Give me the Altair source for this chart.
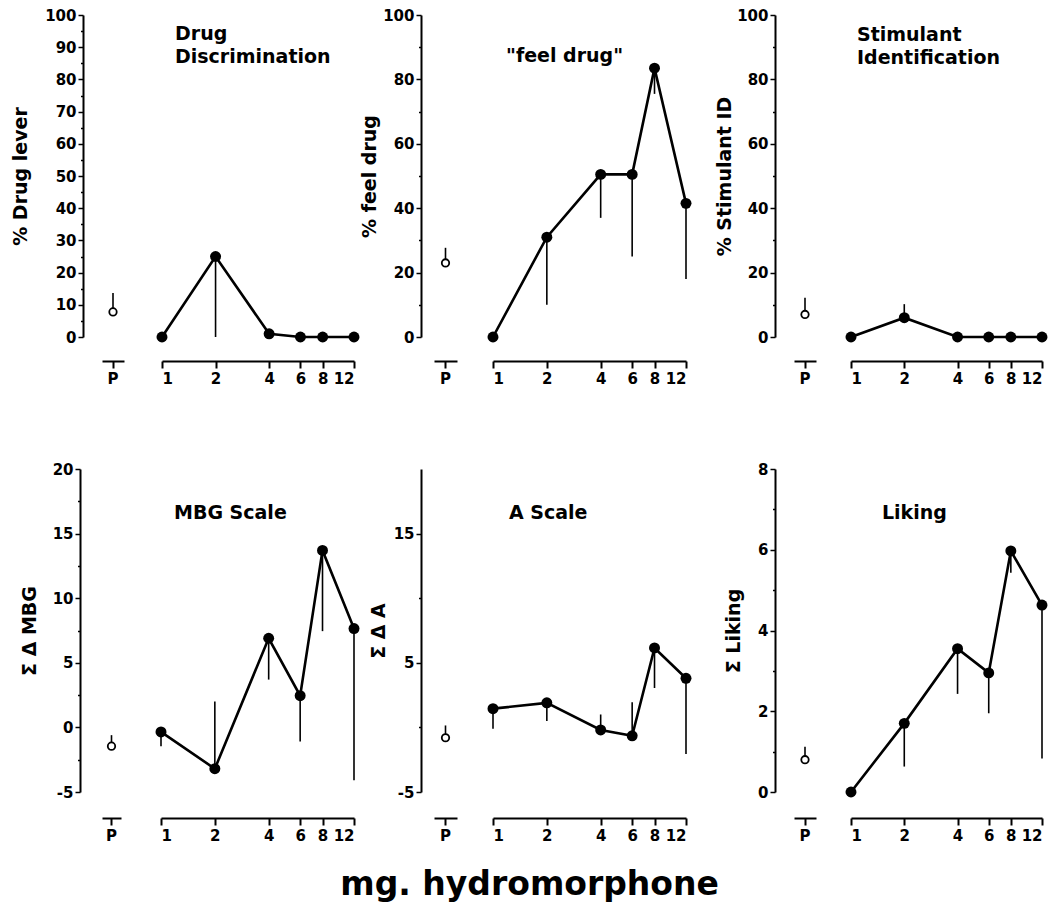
import altair as alt
import pandas as pd

# ---------------- data ----------------
doses = [1, 2, 4, 6, 8, 12]
dose_labels = ["1", "2", "4", "6", "8", "12"]
placebo_cat = ["P"]

# Drug Discrimination (% drug lever)
dd_mean = [0, 25, 1, 0, 0, 0]
dd_err = [0, 0, 1, 0, 0, 0]
dd_p_mean = [7.8]
dd_p_err = [13.7]

# "feel drug"
fd_mean = [0, 31, 50.5, 50.5, 83.5, 41.5]
fd_err = [0, 10, 37, 25, 75.5, 18]
fd_p_mean = [23]
fd_p_err = [27.7]

# Stimulant Identification
si_mean = [0, 6, 0, 0, 0, 0]
si_err = [0, 10.2, 0, 0, 0, 0]
si_p_mean = [7]
si_p_err = [12.2]

# MBG Scale
mbg_mean = [-0.35, -3.2, 6.9, 2.45, 13.7, 7.65]
mbg_err = [-1.45, 2.0, 3.7, -1.1, 7.45, -4.1]
mbg_p_mean = [-1.45]
mbg_p_err = [-0.6]

# A Scale
a_mean = [1.45, 1.9, -0.2, -0.65, 6.15, 3.8]
a_err = [-0.1, 0.5, 1.0, 1.95, 3.05, -2.05]
a_p_mean = [-0.8]
a_p_err = [0.15]

# Liking
lk_mean = [0, 1.7, 3.55, 2.95, 5.97, 4.63]
lk_err = [0, 0.63, 2.43, 1.95, 5.43, 0.83]
lk_p_mean = [0.8]
lk_p_err = [1.12]

FONT = "DejaVu Sans"


def frange(a, b, step):
    out = []
    v = a
    while v <= b + 1e-9:
        out.append(round(v, 4))
        v += step
    return out


def make_panel(title, ytitle, mean, err, p_mean, p_err, domain, yvalues,
               label_test, yoffset, title_pad, title_dx, title_dy,
               width, height, xoffset, p_range, d_range):
    ys = alt.Scale(domain=domain, nice=False, zero=False)
    yaxis = alt.Axis(
        values=yvalues,
        labelExpr=f"({label_test}) ? '' + datum.value : ''",
        tickSize={"condition": {"test": label_test, "value": 5}, "value": 2.5},
        offset=yoffset, title=ytitle, titlePadding=title_pad,
        grid=False, domainWidth=2, tickWidth=1.5,
        labelFontSize=15, labelFontWeight="bold", labelPadding=2,
        titleFontSize=19, titleFontWeight="bold", labelFont=FONT, titleFont=FONT,
        domainColor="black", tickColor="black", labelColor="black", titleColor="black",
    )
    xaxis_common = dict(
        title=None, grid=False, domainWidth=2, tickWidth=2, tickSize=7, orient="bottom",
        labelFontSize=15, labelFontWeight="bold", labelPadding=3, labelFont=FONT,
        domainColor="black", tickColor="black", labelColor="black", offset=xoffset,
    )

    # placebo part
    pdf = pd.DataFrame({"lab": placebo_cat, "mean": p_mean, "err": p_err})
    px = alt.X("lab:N", scale=alt.Scale(domain=placebo_cat, range=p_range),
               axis=alt.Axis(labelAngle=0, **xaxis_common))
    py = alt.Y("mean:Q", scale=ys, axis=yaxis)
    p_rule = alt.Chart(pdf).mark_rule(color="black", strokeWidth=1.6).encode(
        x=px, y=py, y2="err:Q")
    p_pt = alt.Chart(pdf).mark_point(shape="circle", filled=True, fill="white",
                                     stroke="black", strokeWidth=1.8, size=55,
                                     opacity=1).encode(x=px, y=py)
    placebo = alt.layer(p_rule, p_pt)

    # dose part
    ddf = pd.DataFrame({"dose": doses, "lab": dose_labels, "mean": mean, "err": err})
    dx_ = alt.X("dose:Q", scale=alt.Scale(type="log", domain=[1, 12], nice=False, range=d_range),
                axis=alt.Axis(values=doses, format="d", **xaxis_common))
    dy_ = alt.Y("mean:Q", scale=ys, axis=yaxis)
    d_rule = alt.Chart(ddf).mark_rule(color="black", strokeWidth=1.6).encode(
        x=dx_, y=dy_, y2="err:Q")
    d_line = alt.Chart(ddf).mark_line(color="black", strokeWidth=2.6).encode(x=dx_, y=dy_)
    d_pt = alt.Chart(ddf).mark_circle(color="black", size=120, opacity=1).encode(x=dx_, y=dy_)
    dose = alt.layer(d_rule, d_line, d_pt)

    return alt.layer(placebo, dose).resolve_scale(x="independent").resolve_axis(
        x="independent").properties(
        width=width, height=height,
        title=alt.TitleParams(text=title, orient="top", anchor="start", frame="group",
                              baseline="top", offset=0, dx=title_dx, dy=title_dy,
                              fontSize=19, fontWeight="bold", font=FONT,
                              color="black", lineHeight=23))


H1, H2 = 322, 323
W1, W2, W3 = 338, 354, 270

p1 = make_panel(["Drug", "Discrimination"], "% Drug lever", dd_mean, dd_err, dd_p_mean, dd_p_err,
                [0, 100], frange(0, 100, 5), "datum.value % 10 === 0",
                0, 14, 92, 59, W1, H1, 24, [19, 41], [79, 271])
p2 = make_panel(['"feel drug"'], "% feel drug", fd_mean, fd_err, fd_p_mean, fd_p_err,
                [0, 100], frange(0, 100, 10), "datum.value % 20 === 0",
                0, 3, 85, 58, W2, H1, 24, [13, 36], [72, 265])
p3 = make_panel(["Stimulant", "Identification"], "% Stimulant ID", si_mean, si_err, si_p_mean, si_p_err,
                [0, 100], frange(0, 100, 10), "datum.value % 20 === 0",
                0, 2, 82, 60, W3, H1, 24, [19, 41], [76, 267])
p4 = make_panel(["MBG Scale"], "\u03a3 \u0394 MBG", mbg_mean, mbg_err, mbg_p_mean, mbg_p_err,
                [-5, 20], frange(-5, 20, 2.5), "datum.value % 5 === 0",
                3, 13, 91, 61, W1, H2, 26, [19, 38], [78, 271])
p5 = make_panel(["A Scale"], "\u03a3 \u0394 A", a_mean, a_err, a_p_mean, a_p_err,
                [-5, 20], frange(-5, 15, 5), "(datum.value + 5) % 10 === 0",
                0, 5, 88, 54, W2, H2, 26, [13, 36], [72, 265])
p6 = make_panel(["Liking"], "\u03a3 Liking", lk_mean, lk_err, lk_p_mean, lk_p_err,
                [0, 8], frange(0, 8, 1), "datum.value % 2 === 0",
                0, 14, 107, 61, W3, H2, 26, [19, 41], [76, 267])

chart = alt.concat(p1, p2, p3, p4, p5, p6, columns=3, bounds="flush", align="each",
                   spacing={"row": 132, "column": 0}).properties(
    title=alt.TitleParams(text="mg. hydromorphone", orient="bottom", anchor="middle",
                          fontSize=33, fontWeight="bold", font=FONT, color="black",
                          offset=26),
    padding={"left": 3, "top": 0, "right": 5, "bottom": 5},
).configure(font=FONT, background="white").configure_view(stroke=None)

chart.save("out.html", embed_options={"renderer": "svg", "actions": False})
